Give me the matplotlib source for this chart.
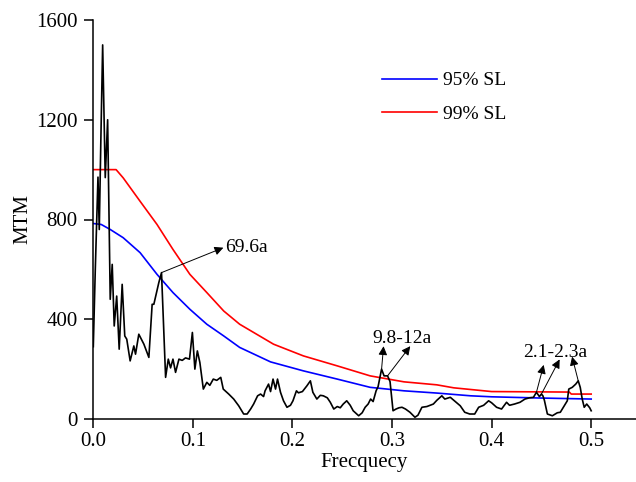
import matplotlib
matplotlib.use("Agg")
import matplotlib.pyplot as plt
import numpy as np

plt.rcParams['font.family'] = ['Liberation Serif', 'DejaVu Serif']
plt.rcParams['font.size'] = 14

# ---- data ----
freq = [0.000, 0.002, 0.0047, 0.006, 0.0075, 0.0094, 0.012, 0.0144, 0.017, 0.019,
        0.021, 0.0235, 0.026, 0.029, 0.0316, 0.0336, 0.037, 0.0407, 0.0424, 0.0457,
        0.0508, 0.0558, 0.0591, 0.0608, 0.0635, 0.0658, 0.0685, 0.0726, 0.0753, 0.0776,
        0.080, 0.0826, 0.086, 0.0893, 0.0926, 0.0966, 0.0995, 0.102, 0.1045, 0.107,
        0.1105, 0.114, 0.117, 0.1205, 0.124, 0.128, 0.1305, 0.136, 0.141, 0.146,
        0.151, 0.1545, 0.158, 0.161, 0.165, 0.168, 0.171, 0.1725, 0.176, 0.178,
        0.1805, 0.183, 0.185, 0.188, 0.191, 0.1945, 0.198, 0.2005, 0.204, 0.206,
        0.210, 0.2145, 0.218, 0.2205, 0.2245, 0.228, 0.231, 0.235, 0.238, 0.2415,
        0.245, 0.248, 0.251, 0.2545, 0.258, 0.261, 0.2665, 0.270, 0.273, 0.276,
        0.2785, 0.281, 0.284, 0.286, 0.2895, 0.292, 0.2955, 0.298, 0.301, 0.304,
        0.307, 0.310, 0.3135, 0.318, 0.323, 0.326, 0.330, 0.335, 0.3415, 0.345,
        0.350, 0.353, 0.3585, 0.362, 0.365, 0.3685, 0.373, 0.378, 0.383, 0.387,
        0.392, 0.397, 0.400, 0.405, 0.410, 0.415, 0.418, 0.423, 0.4285, 0.4335,
        0.438, 0.442, 0.445, 0.448, 0.450, 0.4515, 0.453, 0.456, 0.461, 0.466,
        0.469, 0.472, 0.476, 0.4775, 0.481, 0.4845, 0.487, 0.489, 0.491, 0.493,
        0.4955, 0.4985, 0.500]
mtm = [290, 600, 970, 760, 1100, 1500, 968, 1200, 480, 620,
       373, 493, 280, 540, 333, 320, 233, 293, 260, 340,
       300, 247, 460, 460, 507, 547, 587, 167, 240, 205,
       240, 187, 240, 235, 245, 240, 347, 200, 273, 227,
       120, 147, 135, 160, 155, 167, 120, 100, 80, 53,
       20, 20, 40, 60, 93, 100, 90, 113, 140, 110,
       160, 120, 160, 107, 73, 47, 55, 73, 113, 105,
       110, 133, 153, 107, 80, 95, 93, 85, 67, 40,
       50, 45, 60, 73, 55, 33, 13, 25, 47, 60,
       80, 70, 113, 130, 200, 173, 173, 150, 33, 40,
       45, 47, 40, 27, 7, 15, 47, 50, 60, 75,
       93, 80, 87, 75, 65, 53, 27, 20, 20, 47,
       55, 73, 65, 47, 40, 67, 55, 60, 67, 80,
       85, 87, 107, 90, 100, 93, 75, 20, 13, 25,
       27, 47, 73, 120, 127, 140, 153, 127, 80, 47,
       60, 45, 33]

sl95_freq = [0, 0.008, 0.017, 0.030, 0.047, 0.064, 0.080, 0.097, 0.114, 0.131,
             0.147, 0.178, 0.211, 0.245, 0.278, 0.312, 0.345, 0.379, 0.40, 0.45, 0.5]
sl95 = [784, 780, 760, 727, 667, 580, 507, 440, 380, 333,
        287, 229, 193, 160, 127, 113, 104, 93, 89, 84, 80]

sl99_freq = [0, 0.0229, 0.030, 0.047, 0.064, 0.080, 0.097, 0.114, 0.131, 0.147,
             0.164, 0.181, 0.211, 0.245, 0.278, 0.312, 0.345, 0.362, 0.40, 0.478, 0.48, 0.5]
sl99 = [1000, 1000, 967, 873, 780, 680, 580, 507, 433, 380,
        340, 300, 253, 213, 173, 149, 137, 125, 110, 108, 100, 100]

xticks = [0.0, 0.1, 0.2, 0.3, 0.4, 0.5]
xticklabels = ["0.0", "0.1", "0.2", "0.3", "0.4", "0.5"]
yticks = [0, 400, 800, 1200, 1600]

fig = plt.figure(figsize=(6.36, 4.82), dpi=100)
ax = fig.add_axes([93 / 636, 63 / 482, 543 / 636, 399 / 482])

ax.plot(freq, mtm, color='black', lw=1.2, zorder=3)
l95, = ax.plot(sl95_freq, sl95, color='#0000ff', lw=1.2, label='95% SL', zorder=2)
l99, = ax.plot(sl99_freq, sl99, color='#ff0000', lw=1.2, label='99% SL', zorder=2)

ax.set_xlim(-0.0003, 0.545)
ax.set_ylim(0, 1600)
ax.set_xticks(xticks)
ax.set_xticklabels(xticklabels)
ax.set_yticks(yticks)

for s in ['top', 'right']:
    ax.spines[s].set_visible(False)
for s in ['left', 'bottom']:
    ax.spines[s].set_linewidth(1.1)
ax.tick_params(direction='out', length=6.5, width=1.1, labelsize=15)
ax.tick_params(axis='y', pad=4.5)
ax.tick_params(axis='x', pad=3)

ax.set_xlabel('Frecquecy', fontsize=15, labelpad=1)
ax.set_ylabel('MTM', fontsize=15, labelpad=3)

leg = ax.legend(handles=[l95, l99], loc='upper left', bbox_to_anchor=(0.532, 0.87),
                frameon=False, handlelength=2.85, handletextpad=0.3,
                labelspacing=0.82, borderpad=0, borderaxespad=0, fontsize=14)

aprops = dict(arrowstyle='-|>', color='black', lw=0.7, mutation_scale=13,
              shrinkA=0, shrinkB=0)

def peak(i):
    return (freq[i], mtm[i])

i696 = freq.index(0.0685)
ax.annotate('', xy=(0.1306, 687), xytext=peak(i696), arrowprops=aprops)
ax.text(0.1322, 670, '69.6a', fontsize=14, va='baseline', ha='left')

ia = freq.index(0.2895)
ib = freq.index(0.2955)
ax.annotate('', xy=(0.2915, 292), xytext=peak(ia), arrowprops=aprops)
ax.annotate('', xy=(0.3183, 292), xytext=peak(ib), arrowprops=aprops)
ax.text(0.280, 305, '9.8-12a', fontsize=14, va='baseline', ha='left')

ic = freq.index(0.445)
idd = freq.index(0.450)
ie = freq.index(0.487)
ax.annotate('', xy=(0.4523, 217), xytext=peak(ic), arrowprops=aprops)
ax.annotate('', xy=(0.4683, 239), xytext=peak(idd), arrowprops=aprops)
ax.annotate('', xy=(0.4808, 250), xytext=peak(ie), arrowprops=aprops)
ax.text(0.432, 249, '2.1-2.3a', fontsize=14, va='baseline', ha='left')

fig.savefig('out.png', dpi=100)
